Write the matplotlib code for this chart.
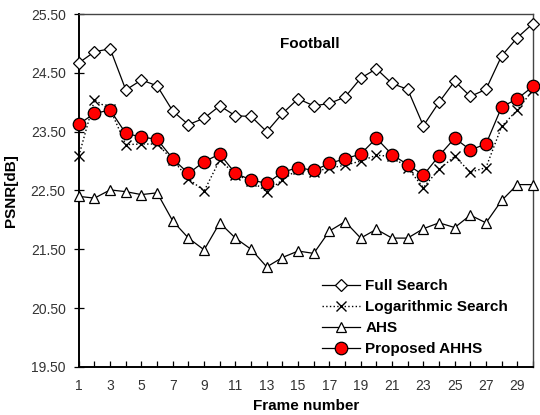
import matplotlib
matplotlib.use("Agg")
import matplotlib.pyplot as plt
from matplotlib.ticker import FormatStrFormatter, MultipleLocator

frames = list(range(1, 31))
full_search = [24.67, 24.86, 24.91, 24.21, 24.38, 24.28, 23.85, 23.62, 23.73, 23.94,
               23.77, 23.76, 23.50, 23.81, 24.06, 23.94, 23.98, 24.09, 24.41, 24.57,
               24.32, 24.22, 23.60, 24.00, 24.36, 24.10, 24.22, 24.79, 25.10, 25.34]
log_search = [23.09, 24.04, 23.88, 23.28, 23.29, 23.29, 23.02, 22.70, 22.49, 23.02,
              22.77, 22.66, 22.48, 22.68, 22.86, 22.82, 22.88, 22.93, 23.00, 23.10,
              23.08, 22.88, 22.55, 22.86, 23.08, 22.81, 22.89, 23.59, 23.87, 24.21]
ahs = [22.40, 22.37, 22.51, 22.48, 22.43, 22.46, 21.98, 21.69, 21.49, 21.95,
       21.69, 21.50, 21.20, 21.36, 21.47, 21.43, 21.81, 21.97, 21.69, 21.84,
       21.69, 21.69, 21.85, 21.95, 21.87, 22.08, 21.95, 22.33, 22.60, 22.60]
ahhs = [23.63, 23.81, 23.87, 23.47, 23.41, 23.37, 23.04, 22.79, 22.99, 23.12,
        22.79, 22.68, 22.62, 22.81, 22.89, 22.84, 22.96, 23.04, 23.12, 23.39,
        23.11, 22.94, 22.76, 23.09, 23.39, 23.19, 23.29, 23.92, 24.06, 24.27]
xtick_labels = list(range(1, 30, 2))
yticks = [19.5, 20.5, 21.5, 22.5, 23.5, 24.5, 25.5]

plt.rcParams['font.family'] = ['Liberation Sans', 'DejaVu Sans']

fig = plt.figure(figsize=(5.4, 4.15), dpi=100)
ax = fig.add_axes([0.146, 0.116, 0.841, 0.85])

ax.plot(frames, full_search, '-', color='black', lw=0.9, marker='D', ms=6.5,
        mfc='white', mec='black', mew=0.9, label='Full Search', zorder=3, clip_on=False)
ax.plot(frames, log_search, ':', color='black', lw=1.0, marker='x', ms=7,
        mec='black', mew=1.0, label='Logarithmic Search', zorder=3, clip_on=False)
ax.plot(frames, ahs, '-', color='black', lw=0.9, marker='^', ms=7,
        mfc='white', mec='black', mew=0.9, label='AHS', zorder=3, clip_on=False)
ax.plot(frames, ahhs, '-', color='black', lw=0.9, marker='o', ms=9,
        mfc='#ff0000', mec='black', mew=0.9, label='Proposed AHHS', zorder=4, clip_on=False)

ax.set_xlim(1, 30)
ax.set_ylim(19.5, 25.5)
ax.set_xticks(xtick_labels)
ax.xaxis.set_minor_locator(MultipleLocator(1))
ax.set_yticks(yticks)
ax.yaxis.set_major_formatter(FormatStrFormatter('%.2f'))
ax.tick_params(axis='x', which='both', direction='in', length=4, width=0.9,
               labelsize=10, pad=9, colors='black', labelcolor='#333333')
ax.tick_params(axis='y', which='major', direction='inout', length=7, width=0.9,
               labelsize=10, pad=6, labelcolor='#333333')

for side in ['left', 'bottom']:
    ax.spines[side].set_linewidth(1.4)
    ax.spines[side].set_color('black')
for side in ['top', 'right']:
    ax.spines[side].set_linewidth(1.0)
    ax.spines[side].set_color('#444444')

ax.set_xlabel('Frame number', fontsize=11, fontweight='bold', labelpad=4)
ax.set_ylabel('PSNR[dB]', fontsize=11, fontweight='bold', labelpad=9)
ax.text(0.509, 0.915, 'Football', transform=ax.transAxes, ha='center', va='center',
        fontsize=11, fontweight='bold')

leg = ax.legend(loc='lower left', bbox_to_anchor=(0.535, 0.031), frameon=False,
                prop={'weight': 'bold', 'size': 11},
                handlelength=2.5, handletextpad=0.35, labelspacing=0.45,
                borderaxespad=0.0, borderpad=0.0)

fig.savefig('out.png', dpi=100)
